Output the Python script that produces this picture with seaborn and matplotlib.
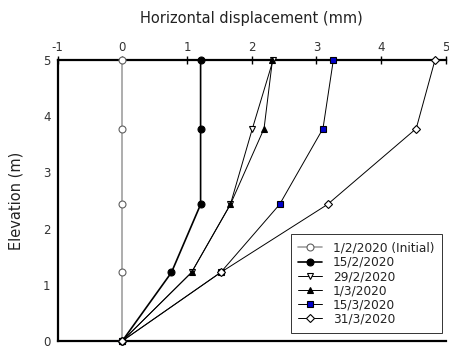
import matplotlib
matplotlib.use("Agg")
import matplotlib.pyplot as plt
import seaborn as sns
import pandas as pd

elevation = [0, 1.22, 2.43, 3.78, 5.0]
labels = ["1/2/2020 (Initial)", "15/2/2020", "29/2/2020", "1/3/2020", "15/3/2020", "31/3/2020"]
d_initial = [0, 0, 0, 0, 0]
d_15feb = [0, 0.76, 1.21, 1.21, 1.21]
d_29feb = [0, 1.07, 1.67, 2.01, 2.33]
d_1mar = [0, 1.07, 1.67, 2.19, 2.32]
d_15mar = [0, 1.52, 2.43, 3.10, 3.26]
d_31mar = [0, 1.52, 3.17, 4.54, 4.83]
series = [d_initial, d_15feb, d_29feb, d_1mar, d_15mar, d_31mar]
xticks = [-1, 0, 1, 2, 3, 4, 5]
xticklabels = ["-1", "0", "1", "2", "3", "4", "5"]
yticks = [0, 1, 2, 3, 4, 5]

styles = [
    dict(color="#a0a0a0", marker="o", mfc="white", mec="#606060", lw=1.2),
    dict(color="black", marker="o", mfc="black", mec="black", lw=1.2),
    dict(color="black", marker="v", mfc="white", mec="black", lw=0.7),
    dict(color="black", marker="^", mfc="black", mec="black", lw=0.7),
    dict(color="black", marker="s", mfc="#0000cc", mec="black", lw=0.7),
    dict(color="black", marker="D", mfc="white", mec="black", lw=0.7),
]

sns.set_style("white")
plt.rcParams['font.family'] = ['DejaVu Sans']
fig = plt.figure(figsize=(4.49, 3.49), dpi=100)
ax = fig.add_axes([57.5/449, 1-341/349, (446-57.5)/449, (341-60)/349])

for lab, xs, st in zip(labels, series, styles):
    df = pd.DataFrame({"x": xs, "y": elevation})
    ms = 5 if st["marker"] != "D" else 4.5
    sns.lineplot(data=df, x="x", y="y", sort=False, estimator=None, ax=ax,
                 color=st["color"], lw=st["lw"], marker=st["marker"],
                 markerfacecolor=st["mfc"], markeredgecolor=st["mec"],
                 markersize=ms, markeredgewidth=0.8, label=lab, clip_on=False, zorder=3)

ax.set_xlim(-1, 5)
ax.set_ylim(0, 5)
ax.set_xticks(xticks)
ax.set_xticklabels(xticklabels)
ax.set_yticks(yticks)
ax.xaxis.tick_top()
ax.xaxis.set_label_position("top")
ax.set_xlabel("Horizontal displacement (mm)", fontsize=10.5, color="#222222", labelpad=13)
ax.set_ylabel("Elevation (m)", fontsize=10.5, color="#222222", labelpad=14)
for s in ["top", "bottom", "left"]:
    ax.spines[s].set_linewidth(1.6)
    ax.spines[s].set_color("black")
ax.spines["right"].set_visible(False)
ax.tick_params(axis="both", direction="inout", length=6, width=1, labelsize=8.5, colors="black")
ax.tick_params(axis="x", pad=1, labelcolor="#333333")
ax.tick_params(axis="y", pad=2, labelcolor="#333333")

leg = ax.legend(loc="lower right", bbox_to_anchor=(0.995, 0.02), fontsize=8.7, frameon=True,
                fancybox=False, edgecolor="black", labelspacing=0.1, handlelength=2.0,
                handletextpad=0.9, borderpad=0.6, borderaxespad=0.2)
leg.get_frame().set_linewidth(0.7)
for t in leg.get_texts():
    t.set_color("#222222")

fig.savefig("out.png", dpi=100)
